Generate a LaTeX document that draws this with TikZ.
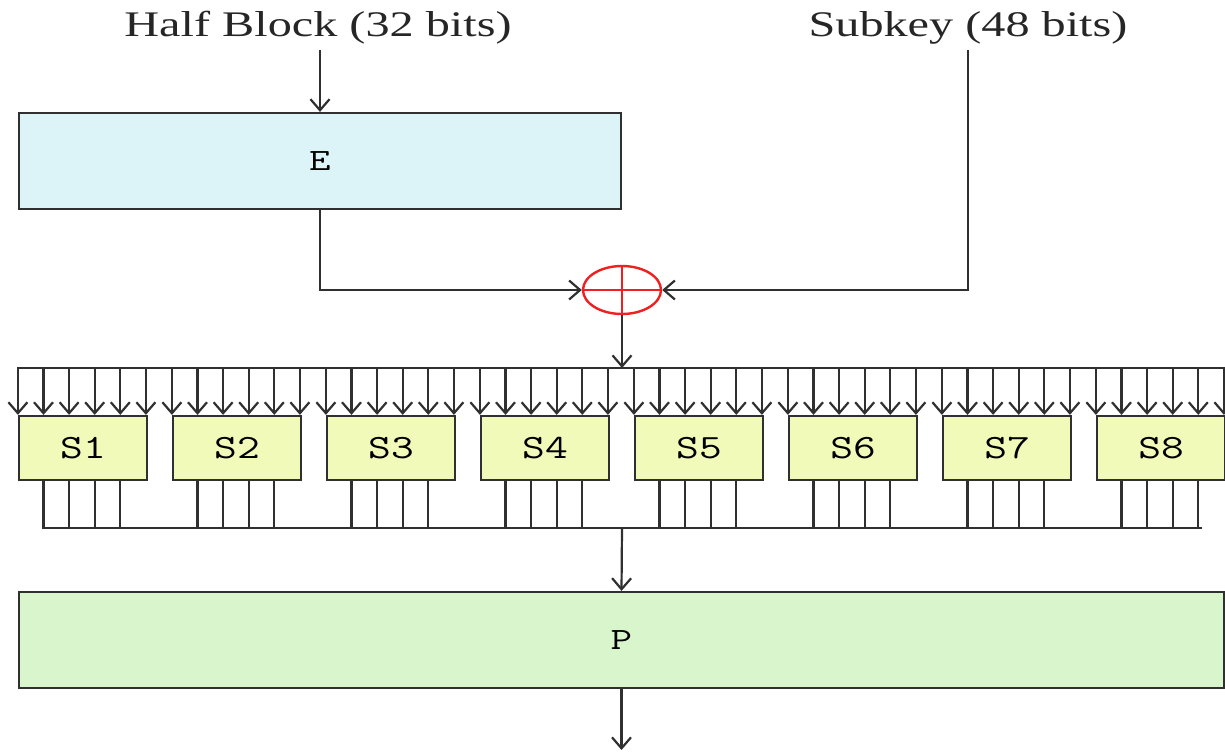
\documentclass[tikz,border=0pt]{standalone}
\usepackage{fontspec}
\usepackage{graphicx}
\setmainfont{Liberation Serif}
\usetikzlibrary{arrows.meta,shapes.geometric}
\definecolor{wirec}{HTML}{303030}
\definecolor{efill}{HTML}{DCF4F8}
\definecolor{sfill}{HTML}{F1FAB8}
\definecolor{pfill}{HTML}{D9F5CC}
\definecolor{xorred}{HTML}{F02020}
\newcommand{\titletext}[1]{\fontsize{36}{40}\selectfont\scalebox{1.34}[1]{#1}}
\newcommand{\boxtext}[3]{\fontsize{#1}{#1}\selectfont\ttfamily\scalebox{#2}[1]{#3}}
\begin{document}
\begin{tikzpicture}[x=1pt,y=-1pt,
  wire/.style={draw=wirec, line width=2.2pt},
  arr/.style={wire, -{Straight Barb[length=11pt,width=19pt,line width=2.2pt]}},
  blk/.style={draw=wirec, line width=2.2pt, inner sep=0pt, rectangle},
  title/.style={inner sep=0pt, text=black!85}]
\useasboundingbox (0,0) rectangle (1225,752);

% titles
\node[title] (H) at (318,28) {\titletext{Half Block (32 bits)}};
\node[title] (K) at (968,28) {\titletext{Subkey (48 bits)}};
\coordinate (h0) at (320,50);
\coordinate (k0) at (968,50);

% E box
\node[blk, fill=efill, minimum width=602pt, minimum height=96pt] (E) at (320,161) {\boxtext{31}{1.35}{E}};
\draw[arr] (h0) -- (E.north);

% XOR
\node[ellipse, draw=xorred, line width=2.4pt, minimum width=78pt, minimum height=48pt, inner sep=0pt] (X) at (622,290) {};
\draw[xorred, line width=2.4pt] (X.north) -- (X.south) (X.west) -- (X.east);
\draw[arr] (E.south) |- (X.west);
\draw[arr] (k0) |- (X.east);

% S boxes
\foreach \i in {1,...,8}{
  \node[blk, fill=sfill, minimum width=128pt, minimum height=64pt] (S\i) at ({83+154*(\i-1)},448) {\boxtext{34}{1.3}{S\i}};
}
% input bus
\coordinate (busL) at (19,368);
\coordinate (busR) at (1225,368);
\draw[wire] (busL) -- (busR);
\draw[arr] (X.south) -- (X.south |- busL);
\foreach \i in {1,...,8}{
  \foreach \j in {0,...,5}{
    \draw[arr] ([xshift=\j*25.6pt,yshift=48pt]S\i.north west) -- ([xshift=\j*25.6pt]S\i.north west);
  }
  \foreach \j in {1,...,4}{
    \draw[wire] ([xshift=\j*25.6pt]S\i.south west) -- ([xshift=\j*25.6pt,yshift=-47pt]S\i.south west);
  }
}
% output bus
\coordinate (obL) at ([xshift=25.6pt,yshift=-47pt]S1.south west);
\coordinate (obR) at ([xshift=-25.6pt,yshift=-47pt]S8.south east);
\draw[wire, line cap=rect] (obL) -- (obR);

% P box
\node[blk, fill=pfill, minimum width=1205pt, minimum height=96pt] (P) at (621.5,640) {\boxtext{31}{1.35}{P}};
\coordinate (ob) at (622,527);
\draw[arr] (ob) -- (P.north);
\coordinate (out) at (621.5,750);
\draw[arr] (P.south) -- (out);
\end{tikzpicture}
\end{document}
